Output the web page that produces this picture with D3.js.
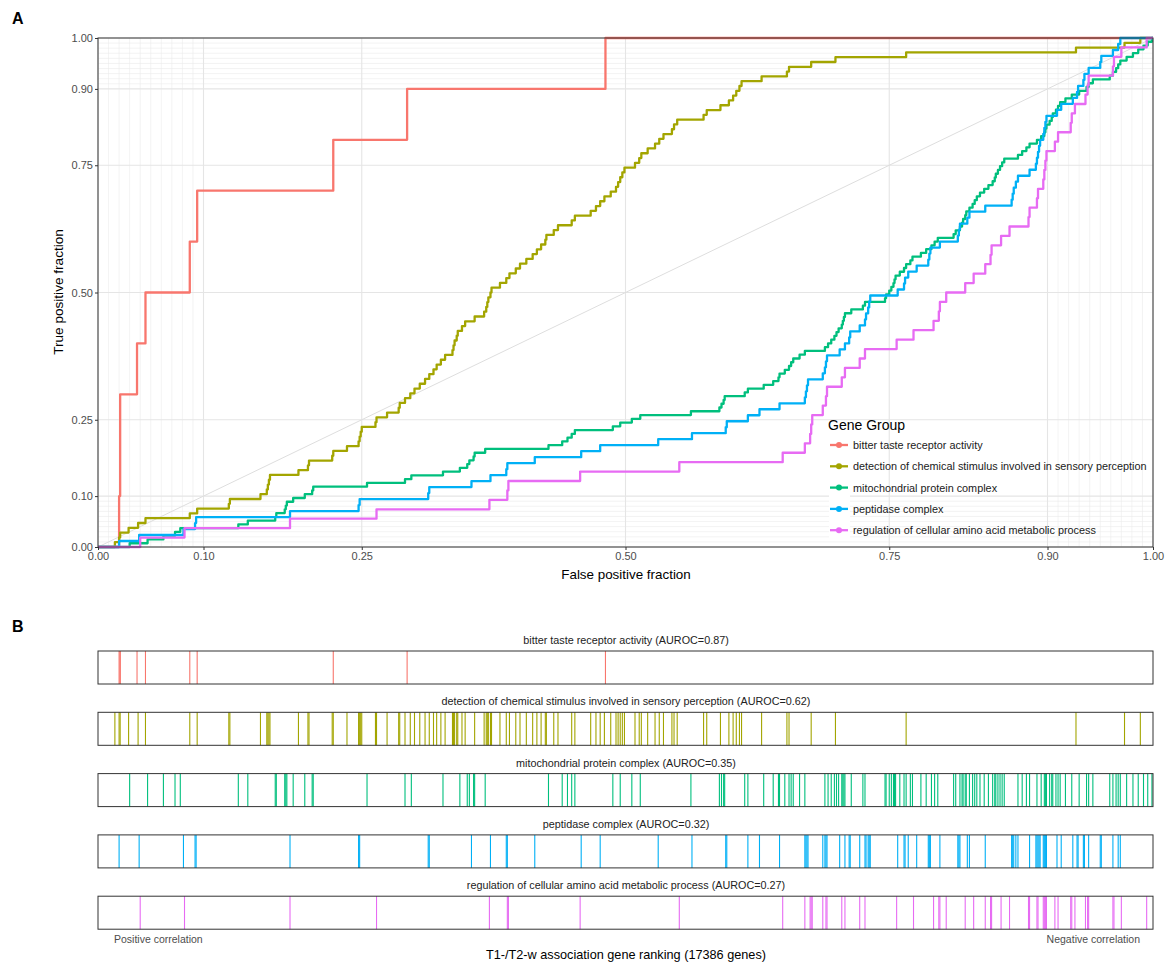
<!DOCTYPE html>
<html>
<head>
<meta charset="utf-8">
<script src="https://cdn.jsdelivr.net/npm/d3@7"></script>
<style>
  body { margin: 0; background: #fff; }
  svg { font-family: "Liberation Sans", Arial, Helvetica, sans-serif; }
</style>
</head>
<body>
<div id="chart"></div>
<script>
// gene groups, in legend order
var groups = [
  "bitter taste receptor activity",
  "detection of chemical stimulus involved in sensory perception",
  "mitochondrial protein complex",
  "peptidase complex",
  "regulation of cellular amino acid metabolic process"
];
var colors = ["#F8766D", "#A3A500", "#00BF7D", "#00B0F6", "#E76BF3"];
var auroc = [0.87, 0.62, 0.35, 0.32, 0.27];

// position of each group gene in the ranking, per mille of 17386 genes
var bitterRanks = [20, 21, 21, 37, 45, 87, 94, 223, 293, 481];
var detectionRanks = [16, 20, 21, 29, 38, 45, 87, 94, 124, 125, 154, 160, 161, 162, 163, 190, 199, 200,
  222, 223, 236, 247, 248, 249, 250, 263, 264, 274, 285, 286, 291, 296, 300, 305, 310, 314, 318, 321,
  325, 329, 336, 337, 338, 340, 341, 345, 348, 357, 366, 368, 369, 370, 372, 373, 381, 387, 390, 396,
  400, 406, 412, 416, 420, 424, 425, 432, 436, 449, 452, 467, 472, 476, 480, 486, 491, 493, 495, 497,
  499, 509, 513, 515, 521, 528, 532, 536, 544, 546, 549, 574, 577, 590, 598, 602, 605, 608, 610, 629,
  653, 655, 676, 699, 766, 927, 973, 988];
var mitoRanks = [30, 47, 62, 73, 78, 133, 142, 168, 169, 177, 178, 179, 185, 196, 203, 204, 255, 291,
  297, 327, 343, 350, 352, 356, 357, 367, 427, 440, 445, 449, 452, 488, 495, 506, 514, 562, 589, 591,
  593, 594, 613, 616, 631, 640, 645, 646, 651, 655, 657, 659, 665, 670, 689, 692, 695, 698, 700, 702,
  705, 706, 707, 708, 714, 725, 727, 746, 747, 750, 752, 754, 755, 756, 760, 764, 766, 770, 772, 780,
  785, 790, 793, 796, 811, 813, 817, 819, 820, 822, 823, 826, 829, 831, 833, 836, 840, 844, 848, 850,
  851, 853, 855, 857, 859, 872, 876, 880, 883, 890, 894, 897, 898, 899, 902, 904, 905, 908, 910, 912,
  917, 923, 930, 937, 939, 943, 959, 962, 965, 967, 969, 975, 981, 986, 991, 995, 999];
var peptidaseRanks = [20, 39, 81, 92, 93, 182, 247, 248, 313, 314, 354, 372, 387, 388, 414, 458, 476,
  531, 563, 595, 596, 616, 627, 646, 670, 671, 672, 673, 687, 689, 690, 691, 703, 708, 712, 713, 722,
  727, 728, 730, 731, 732, 758, 764, 765, 768, 776, 787, 788, 789, 798, 815, 816, 817, 824, 826, 841,
  866, 867, 868, 870, 872, 883, 889, 890, 891, 892, 893, 896, 897, 898, 899, 909, 913, 924, 928, 929,
  934, 935, 939, 950, 951, 962, 967, 969];
var regulationRanks = [40, 82, 182, 264, 371, 388, 389, 457, 551, 649, 670, 675, 676, 677, 687, 690,
  691, 705, 708, 722, 727, 757, 773, 792, 797, 798, 804, 822, 830, 841, 846, 847, 856, 864, 882, 883,
  890, 891, 896, 897, 898, 899, 907, 910, 922, 923, 926, 936, 938, 939, 962, 963, 970, 994];
var ranks = [bitterRanks, detectionRanks, mitoRanks, peptidaseRanks, regulationRanks];

var breaks = [0, 0.1, 0.25, 0.5, 0.75, 0.9, 1];
var minorBreaks = d3.range(1, 10).map(function(d) { return d / 100; })
  .concat(d3.range(91, 100).map(function(d) { return d / 100; }));

var W = 1171, H = 962;
var svg = d3.select('#chart').append('svg')
  .attr('width', W)
  .attr('height', H);

// ---------- panel A : ROC ----------
var x = d3.scaleLinear().domain([0, 1]).range([98, 1153]);
var y = d3.scaleLinear().domain([0, 1]).range([547, 38]);

svg.append('text').attr('x', 12).attr('y', 24)
  .attr('font-size', 16).attr('font-weight', 'bold').text('A');

var grid = svg.append('g');
grid.selectAll('.vmin').data(minorBreaks).enter().append('line')
  .attr('x1', x).attr('x2', x).attr('y1', y(0)).attr('y2', y(1))
  .attr('stroke', '#ebebeb').attr('stroke-width', 0.6);
grid.selectAll('.hmin').data(minorBreaks).enter().append('line')
  .attr('y1', y).attr('y2', y).attr('x1', x(0)).attr('x2', x(1))
  .attr('stroke', '#ebebeb').attr('stroke-width', 0.6);
grid.selectAll('.vmaj').data(breaks).enter().append('line')
  .attr('x1', x).attr('x2', x).attr('y1', y(0)).attr('y2', y(1))
  .attr('stroke', '#e5e5e5').attr('stroke-width', 1.1);
grid.selectAll('.hmaj').data(breaks).enter().append('line')
  .attr('y1', y).attr('y2', y).attr('x1', x(0)).attr('x2', x(1))
  .attr('stroke', '#e5e5e5').attr('stroke-width', 1.1);

// chance diagonal
svg.append('line')
  .attr('x1', x(0)).attr('y1', y(0)).attr('x2', x(1)).attr('y2', y(1))
  .attr('stroke', '#dedede').attr('stroke-width', 1);

// ROC steps from the gene ranks
function rocPoints(r) {
  var s = r.slice().sort(d3.ascending), n = s.length;
  var pts = [[0, 0]];
  s.forEach(function(v, i) {
    pts.push([v / 1000, i / n]);
    pts.push([v / 1000, (i + 1) / n]);
  });
  pts.push([1, 1]);
  return pts;
}
var line = d3.line().x(function(d) { return x(d[0]); }).y(function(d) { return y(d[1]); });

svg.append('g').selectAll('path').data(ranks).enter().append('path')
  .attr('d', function(d) { return line(rocPoints(d)); })
  .attr('fill', 'none')
  .attr('stroke', function(d, i) { return colors[i]; })
  .attr('stroke-width', 2.3)
  .attr('stroke-linejoin', 'round');

// frame
svg.append('rect')
  .attr('x', x(0)).attr('y', y(1)).attr('width', x(1) - x(0)).attr('height', y(0) - y(1))
  .attr('fill', 'none').attr('stroke', '#333').attr('stroke-width', 1);

var fmt = d3.format('.2f');
var yAxis = svg.append('g').attr('transform', 'translate(' + x(0) + ',0)')
  .call(d3.axisLeft(y).tickValues(breaks).tickFormat(fmt).tickSize(3).tickPadding(2));
var xAxis = svg.append('g').attr('transform', 'translate(0,' + y(0) + ')')
  .call(d3.axisBottom(x).tickValues(breaks).tickFormat(fmt).tickSize(3).tickPadding(2));
[xAxis, yAxis].forEach(function(a) {
  a.select('.domain').remove();
  a.selectAll('.tick line').attr('stroke', '#333');
  a.selectAll('.tick text').attr('fill', '#4d4d4d').attr('font-size', 11)
    .attr('font-family', '"Liberation Sans", Arial, sans-serif');
});

svg.append('text').attr('x', 626).attr('y', 579).attr('text-anchor', 'middle')
  .attr('font-size', 13.4).text('False positive fraction');
svg.append('text').attr('transform', 'translate(63,292) rotate(-90)').attr('text-anchor', 'middle')
  .attr('font-size', 13.6).text('True positive fraction');

// legend (no background, white key squares)
var lg = svg.append('g').attr('transform', 'translate(828,414)');
lg.append('text').attr('x', 0).attr('y', 16).attr('font-size', 14).text('Gene Group');
var item = lg.selectAll('.item').data(groups).enter().append('g')
  .attr('transform', function(d, i) { return 'translate(0,' + (31 + i * 21.3) + ')'; });
item.append('rect').attr('x', 1).attr('y', -10.5).attr('width', 21).attr('height', 21).attr('fill', '#fff');
item.append('line').attr('x1', 2).attr('x2', 20)
  .attr('stroke', function(d, i) { return colors[i]; }).attr('stroke-width', 2.3);
item.append('circle').attr('cx', 11).attr('r', 3)
  .attr('fill', function(d, i) { return colors[i]; });
item.append('text').attr('x', 25).attr('y', 4).attr('font-size', 10.85).attr('fill', '#1a1a1a')
  .text(function(d) { return d; });

// ---------- panel B : barcodes ----------
svg.append('text').attr('x', 12).attr('y', 632)
  .attr('font-size', 16).attr('font-weight', 'bold').text('B');

var barTop = 651, barStep = 61.3, barH = 33;
var bars = svg.append('g').selectAll('g').data(ranks).enter().append('g')
  .attr('transform', function(d, i) { return 'translate(0,' + (barTop + i * barStep) + ')'; });
bars.append('rect')
  .attr('x', x(0)).attr('width', x(1) - x(0)).attr('height', barH)
  .attr('fill', '#fff');
bars.each(function(d, i) {
  d3.select(this).selectAll('line').data(d).enter().append('line')
    .attr('x1', function(v) { return x(v / 1000); })
    .attr('x2', function(v) { return x(v / 1000); })
    .attr('y1', 0).attr('y2', barH)
    .attr('stroke', colors[i]).attr('stroke-width', 1.1);
});
bars.append('rect')
  .attr('x', x(0)).attr('width', x(1) - x(0)).attr('height', barH)
  .attr('fill', 'none').attr('stroke', '#333').attr('stroke-width', 1);
bars.append('text')
  .attr('x', 626).attr('y', -7).attr('text-anchor', 'middle')
  .attr('font-size', 10.8).attr('fill', '#222')
  .text(function(d, i) { return groups[i] + ' (AUROC=' + auroc[i] + ')'; });

svg.append('text').attr('x', 114).attr('y', 943).attr('font-size', 10.5).attr('fill', '#4d4d4d')
  .text('Positive correlation');
svg.append('text').attr('x', 1140).attr('y', 943).attr('text-anchor', 'end')
  .attr('font-size', 10.5).attr('fill', '#4d4d4d').text('Negative correlation');
svg.append('text').attr('x', 626).attr('y', 959).attr('text-anchor', 'middle')
  .attr('font-size', 12.7).text('T1-/T2-w association gene ranking (17386 genes)');
</script>
</body>
</html>
